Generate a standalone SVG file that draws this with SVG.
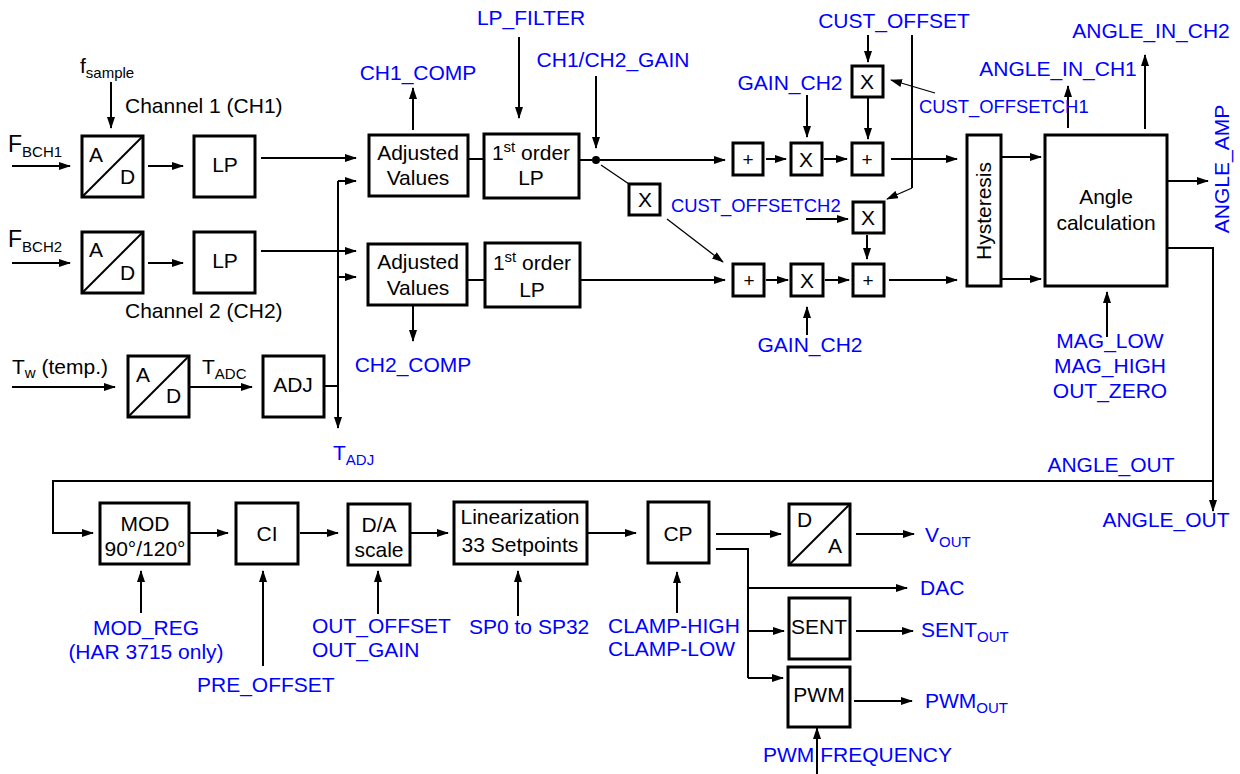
<svg xmlns="http://www.w3.org/2000/svg" width="1240" height="774" viewBox="0 0 1240 774">
<defs>
<marker id="ah" markerUnits="userSpaceOnUse" markerWidth="12" markerHeight="8" refX="11" refY="4" orient="auto">
<path d="M0,0 L12,4 L0,8 z" fill="#000"/>
</marker>
<style>
.box{fill:#fff;stroke:#000;stroke-width:3}
.ln{stroke:#000;stroke-width:2;fill:none}
.thin{stroke:#000;stroke-width:1.3;fill:none}
.ar{marker-end:url(#ah)}
text{font-family:"Liberation Sans",Arial,Helvetica,sans-serif;font-size:21px;fill:#000}
.b{fill:#0000ff}
.s{font-size:15px}
.m{text-anchor:middle}
.p{font-size:19px}
.n{font-size:18.4px}
</style>
</defs>
<rect width="1240" height="774" fill="#fff"/>

<!-- connectors -->
<g id="connectors">
<path class="ln ar" d="M111,82 V128"/>
<path class="ln ar" d="M12,166 H70"/>
<path class="ln ar" d="M148,166 H183"/>
<path class="ln ar" d="M261,158 H356"/>
<path class="ln ar" d="M12,263 H70"/>
<path class="ln ar" d="M148,263 H183"/>
<path class="ln ar" d="M261,251 H356"/>
<path class="ln ar" d="M12,387 H115"/>
<path class="ln ar" d="M190,387 H252"/>
<path class="ln" d="M324,386 H338"/>
<path class="ln ar" d="M338,181 V428"/>
<path class="ln ar" d="M338,181 H356"/>
<path class="ln ar" d="M338,277 H356"/>
<path class="ln" d="M468,159 H484"/>
<path class="ln" d="M467,280 H485"/>
<path class="ln ar" d="M413,130 V88"/>
<path class="ln ar" d="M413,305 V341"/>
<path class="ln ar" d="M519,37 V118"/>
<path class="ln ar" d="M596,76 V148"/>
<path class="ln" d="M579,160 H592"/>
<path class="ln ar" d="M600,160 H725"/>
<path class="thin" d="M601,165 L629,184"/>
<path class="thin ar" d="M667,219 L723,262"/>
<path class="ln ar" d="M580,280 H725"/>
<path class="ln ar" d="M766,159 H786"/>
<path class="ln ar" d="M824,159 H847"/>
<path class="ln ar" d="M891,159 H957"/>
<path class="ln ar" d="M766,280 H788"/>
<path class="ln ar" d="M825,280 H849"/>
<path class="ln ar" d="M889,280 H957"/>
<path class="ln ar" d="M868,35 V62"/>
<path class="ln ar" d="M868,98 V139"/>
<path class="ln ar" d="M807,95 V137"/>
<path class="thin ar" d="M935,93 L891,80"/>
<path class="ln" d="M912,35 V188"/>
<path class="thin ar" d="M912,188 L887,199"/>
<path class="ln ar" d="M806,219 H848"/>
<path class="ln ar" d="M867,235 V259"/>
<path class="ln ar" d="M807,335 V307"/>
<path class="ln ar" d="M1001,157 H1041"/>
<path class="ln ar" d="M1001,279 H1041"/>
<path class="ln ar" d="M1068,128 V86"/>
<path class="ln ar" d="M1145,129 V55"/>
<path class="ln ar" d="M1167,181 H1208"/>
<path class="ln ar" d="M1167,248 H1213 V511"/>
<path class="ln ar" d="M1107,337 V292"/>
<path class="ln ar" d="M1213,481 H53 V533 H93"/>
<path class="ln ar" d="M189,533 H228"/>
<path class="ln ar" d="M300,533 H338"/>
<path class="ln ar" d="M410,533 H448"/>
<path class="ln ar" d="M587,533 H636"/>
<path class="ln ar" d="M141,613 V571"/>
<path class="ln ar" d="M263,666 V571"/>
<path class="ln ar" d="M378,614 V571"/>
<path class="ln ar" d="M518,616 V571"/>
<path class="ln ar" d="M677,613 V572"/>
<path class="ln ar" d="M716,534 H781"/>
<path class="ln ar" d="M856,534 H914"/>
<path class="ln" d="M716,549 H748 V678"/>
<path class="ln ar" d="M748,588 H907"/>
<path class="ln ar" d="M748,631 H784"/>
<path class="ln ar" d="M748,678 H783"/>
<path class="ln ar" d="M856,631 H913"/>
<path class="ln ar" d="M854,701 H912"/>
<path class="ln ar" d="M817,774 V728"/>
<circle cx="596" cy="160" r="4" fill="#000"/>
</g>

<!-- left input labels -->
<g id="lbl-fsample"><text x="80" y="73">f<tspan class="s" dy="5">sample</tspan></text></g>
<g id="lbl-ch1"><text x="125" y="113">Channel 1 (CH1)</text></g>
<g id="lbl-ch2"><text x="125" y="318">Channel 2 (CH2)</text></g>
<g id="lbl-fbch1"><text x="8" y="152" style="font-size:23px">F<tspan class="s" dy="5">BCH1</tspan></text></g>
<g id="lbl-fbch2"><text x="8" y="247" style="font-size:23px">F<tspan class="s" dy="5">BCH2</tspan></text></g>
<g id="lbl-tw"><text x="12" y="374">T<tspan class="s" dy="4">w</tspan><tspan dy="-4"> (temp.)</tspan></text></g>
<g id="lbl-tadc"><text x="202" y="374">T<tspan class="s" dy="5">ADC</tspan></text></g>
<g id="lbl-tadj"><text class="b" x="333" y="460">T<tspan class="s b" dy="5">ADJ</tspan></text></g>

<!-- row 1 -->
<g id="ad1"><rect class="box" x="82" y="136" width="61" height="61"/><path class="ln" d="M82,197 L143,136"/><text x="89" y="162">A</text><text x="120" y="184">D</text></g>
<g id="lp1"><rect class="box" x="194" y="136" width="61" height="61"/><text class="m" x="225" y="172">LP</text></g>
<g id="ad2"><rect class="box" x="82" y="232" width="61" height="61"/><path class="ln" d="M82,293 L143,232"/><text x="89" y="257">A</text><text x="120" y="280">D</text></g>
<g id="lp2"><rect class="box" x="194" y="232" width="61" height="61"/><text class="m" x="225" y="268">LP</text></g>
<g id="ad3"><rect class="box" x="128" y="356" width="61" height="61"/><path class="ln" d="M128,417 L189,356"/><text x="136" y="382">A</text><text x="166" y="403">D</text></g>
<g id="adj"><rect class="box" x="263" y="356" width="61" height="61"/><text class="m" x="293" y="392">ADJ</text></g>

<g id="adjv1"><rect class="box" x="369" y="135" width="99" height="61"/><text class="m" x="418" y="160">Adjusted</text><text class="m" x="418" y="185">Values</text></g>
<g id="adjv2"><rect class="box" x="368" y="244" width="99" height="61"/><text class="m" x="418" y="269">Adjusted</text><text class="m" x="418" y="295">Values</text></g>
<g id="lpf1"><rect class="box" x="484" y="134" width="95" height="64"/><text class="m" x="531" y="160">1<tspan class="s" dy="-8">st</tspan><tspan dy="8"> order</tspan></text><text class="m" x="531" y="185">LP</text></g>
<g id="lpf2"><rect class="box" x="485" y="243" width="95" height="64"/><text class="m" x="532" y="270">1<tspan class="s" dy="-8">st</tspan><tspan dy="8"> order</tspan></text><text class="m" x="532" y="297">LP</text></g>

<g id="lbl-ch1comp"><text class="b m" x="418" y="80">CH1_COMP</text></g>
<g id="lbl-ch2comp"><text class="b m" x="413" y="372">CH2_COMP</text></g>
<g id="lbl-lpfilter"><text class="b m" x="531" y="25">LP_FILTER</text></g>
<g id="lbl-gain"><text class="b m" x="613" y="67">CH1/CH2_GAIN</text></g>

<g id="xcross"><rect class="box" x="629" y="184" width="31" height="31"/><text class="m" x="645" y="207">X</text></g>

<!-- right: adders/multipliers -->
<g id="add1a"><rect class="box" x="733" y="143" width="30" height="32"/><text class="m p" x="748" y="166">+</text></g>
<g id="mul1"><rect class="box" x="791" y="143" width="31" height="32"/><text class="m" x="806" y="167">X</text></g>
<g id="add1b"><rect class="box" x="852" y="143" width="31" height="32"/><text class="m p" x="867" y="166">+</text></g>
<g id="xoff1"><rect class="box" x="852" y="66" width="31" height="31"/><text class="m" x="867" y="89">X</text></g>
<g id="add2a"><rect class="box" x="733" y="264" width="31" height="32"/><text class="m p" x="749" y="287">+</text></g>
<g id="mul2"><rect class="box" x="791" y="264" width="32" height="32"/><text class="m" x="807" y="288">X</text></g>
<g id="add2b"><rect class="box" x="853" y="264" width="31" height="32"/><text class="m p" x="868" y="287">+</text></g>
<g id="xoff2"><rect class="box" x="853" y="202" width="31" height="31"/><text class="m" x="868" y="225">X</text></g>

<g id="lbl-custoffset"><text class="b m" x="894" y="28">CUST_OFFSET</text></g>
<g id="lbl-gainch2a"><text class="b m" x="790" y="90">GAIN_CH2</text></g>
<g id="lbl-custch1"><text class="b n" x="919" y="113">CUST_OFFSETCH1</text></g>
<g id="lbl-custch2"><text class="b n" x="671" y="212">CUST_OFFSETCH2</text></g>
<g id="lbl-gainch2b"><text class="b m" x="810" y="352">GAIN_CH2</text></g>

<g id="hyst"><rect class="box" x="967" y="135" width="34" height="151"/><text class="m" transform="translate(991,211) rotate(-90)">Hysteresis</text></g>
<g id="anglecalc"><rect class="box" x="1045" y="135" width="122" height="151"/><text class="m" x="1106" y="204">Angle</text><text class="m" x="1106" y="230">calculation</text></g>

<g id="lbl-anglein2"><text class="b m" x="1151" y="38">ANGLE_IN_CH2</text></g>
<g id="lbl-anglein1"><text class="b m" x="1058" y="76">ANGLE_IN_CH1</text></g>
<g id="lbl-angleamp"><text class="b m" transform="translate(1229,169) rotate(-90)">ANGLE_AMP</text></g>
<g id="lbl-mag"><text class="b m" x="1110" y="348">MAG_LOW</text><text class="b m" x="1110" y="373">MAG_HIGH</text><text class="b m" x="1110" y="398">OUT_ZERO</text></g>
<g id="lbl-angleout1"><text class="b m" x="1111" y="472">ANGLE_OUT</text></g>
<g id="lbl-angleout2"><text class="b m" x="1166" y="527">ANGLE_OUT</text></g>

<!-- bottom row -->
<g id="mod"><rect class="box" x="100" y="503" width="89" height="61"/><text class="m" x="145" y="531">MOD</text><text class="m" x="145" y="556">90°/120°</text></g>
<g id="ci"><rect class="box" x="236" y="503" width="62" height="61"/><text class="m" x="267" y="541">CI</text></g>
<g id="dascale"><rect class="box" x="348" y="504" width="62" height="61"/><text class="m" x="379" y="532">D/A</text><text class="m" x="379" y="557">scale</text></g>
<g id="lin"><rect class="box" x="454" y="502" width="133" height="62"/><text class="m" x="520" y="524">Linearization</text><text class="m" x="520" y="552">33 Setpoints</text></g>
<g id="cp"><rect class="box" x="648" y="502" width="61" height="61"/><text class="m" x="678" y="541">CP</text></g>
<g id="da"><rect class="box" x="789" y="504" width="61" height="61"/><path class="ln" d="M789,565 L850,504"/><text x="797" y="527">D</text><text x="828" y="553">A</text></g>
<g id="sent"><rect class="box" x="789" y="598" width="61" height="61"/><text class="m" x="819" y="634">SENT</text></g>
<g id="pwm"><rect class="box" x="788" y="667" width="62" height="60"/><text class="m" x="819" y="702">PWM</text></g>

<g id="lbl-modreg"><text class="b m" x="146" y="635">MOD_REG</text><text class="b m" x="146" y="659">(HAR 3715 only)</text></g>
<g id="lbl-preoffset"><text class="b" x="197" y="692">PRE_OFFSET</text></g>
<g id="lbl-outoffset"><text class="b" x="312" y="633">OUT_OFFSET</text><text class="b" x="312" y="657">OUT_GAIN</text></g>
<g id="lbl-sp"><text class="b" x="469" y="634">SP0 to SP32</text></g>
<g id="lbl-clamp"><text class="b" x="608" y="633">CLAMP-HIGH</text><text class="b" x="608" y="656">CLAMP-LOW</text></g>
<g id="lbl-vout"><text class="b" x="925" y="542">V<tspan class="s b" dy="5">OUT</tspan></text></g>
<g id="lbl-dac"><text class="b" x="920" y="595">DAC</text></g>
<g id="lbl-sentout"><text class="b" x="921" y="637">SENT<tspan class="s b" dy="5">OUT</tspan></text></g>
<g id="lbl-pwmout"><text class="b" x="925" y="708">PWM<tspan class="s b" dy="5">OUT</tspan></text></g>
<g id="lbl-pwmfreq"><text class="b" x="763" y="762">PWM FREQUENCY</text></g>
</svg>
